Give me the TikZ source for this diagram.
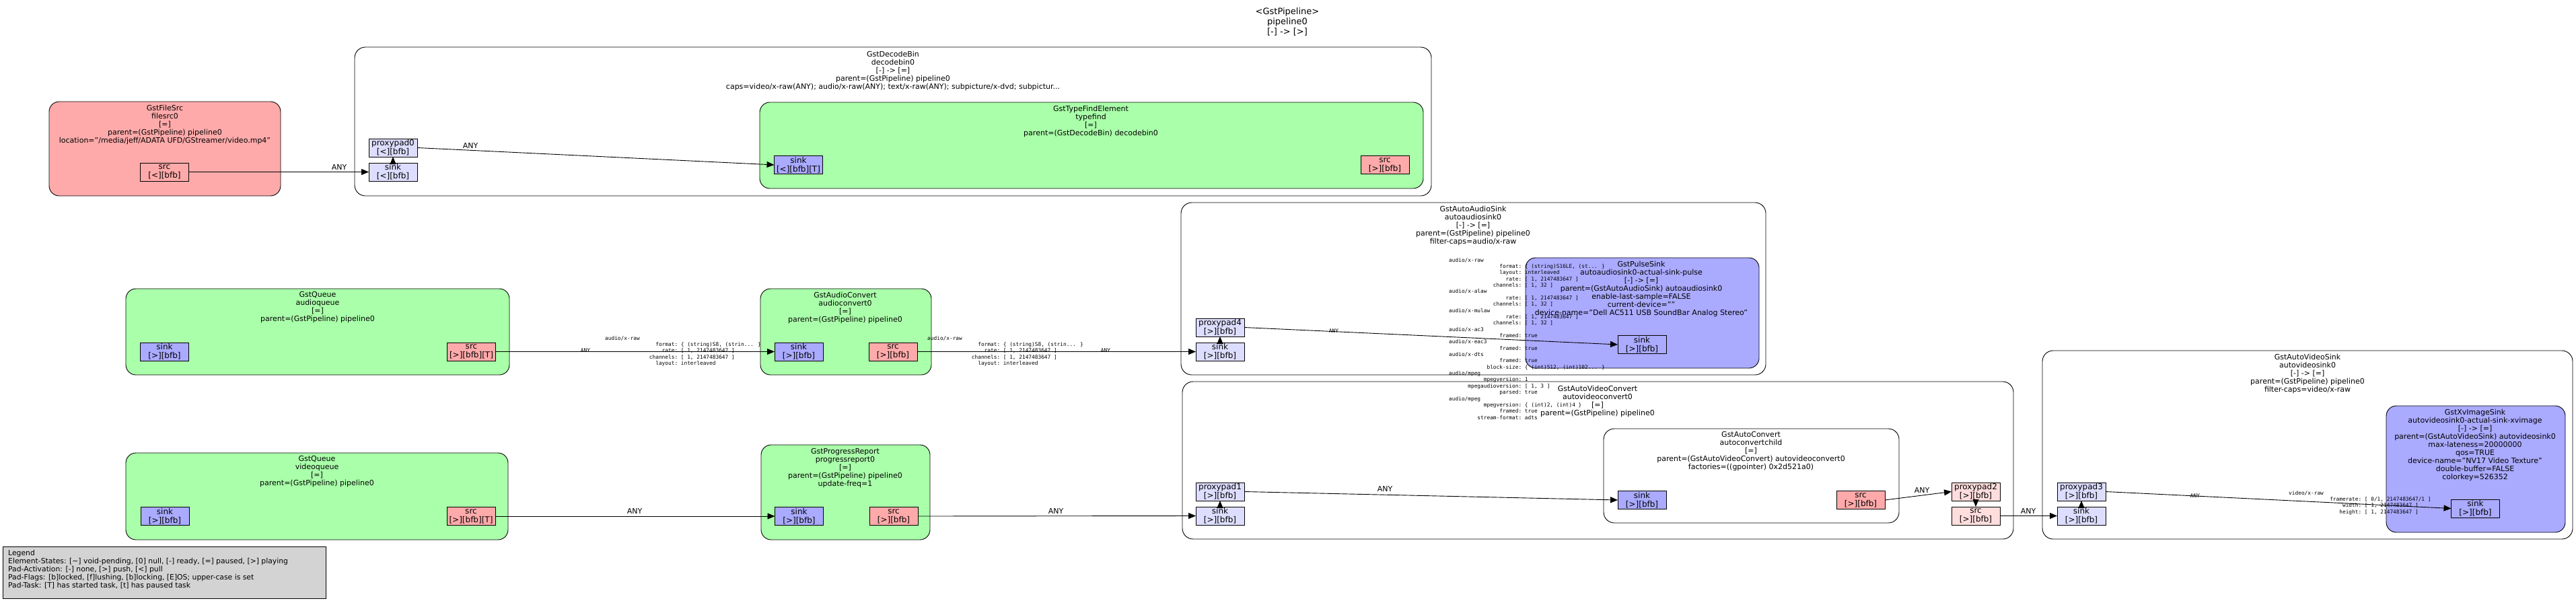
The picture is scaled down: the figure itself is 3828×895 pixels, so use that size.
\documentclass[tikz,border=0pt]{standalone}
\usepackage{fontspec}
\setmainfont{DejaVu Sans}
\newfontfamily\capsfont{DejaVu Sans Mono}
\usetikzlibrary{arrows.meta}

\definecolor{elemgreen}{HTML}{AAFFAA}
\definecolor{srcred}{HTML}{FFAAAA}
\definecolor{sinkblue}{HTML}{AAAAFF}
\definecolor{ghostsink}{HTML}{DDDDFF}
\definecolor{ghostsrc}{HTML}{FFDDDD}
\definecolor{legendgray}{HTML}{D3D3D3}

% caps columns: media type flush left, field names flush right to the colon
\newlength{\capsw}\setlength{\capsw}{108pt}
\newcommand{\ctype}[1]{\makebox[\capsw][l]{#1}}
\newcommand{\ckey}[2]{\makebox[\capsw][r]{#1}\ #2}

\tikzset{
	bin/.style={draw, line width=0.9pt, rounded corners=16pt, fill=white, inner sep=0pt, outer sep=0pt},
	elem/.style={draw, line width=0.9pt, rounded corners=15pt, inner sep=0pt, outer sep=0pt},
	pad/.style={draw, line width=0.8pt, minimum width=72pt, minimum height=27pt, inner sep=0pt, outer sep=0pt, align=center, font=\fontsize{12}{13}\selectfont},
	elemtext/.style={align=center, inner sep=0pt, font=\fontsize{11}{12}\selectfont},
	anylbl/.style={inner sep=0pt, font=\fontsize{11}{12}\selectfont},
	anysmall/.style={inner sep=0pt, font=\capsfont\fontsize{7.8}{9.36}\selectfont},
	capstext/.style={align=left, anchor=north west, inner sep=0pt, font=\capsfont\fontsize{7.8}{9.36}\selectfont},
	link/.style={-{Triangle[length=11pt,width=9pt]}, line width=0.9pt}
}

\begin{document}
\begin{tikzpicture}[x=1pt, y=-1pt]
	\useasboundingbox (0,0) rectangle (3828,895);

	\node [align=center, inner sep=0pt, font=\fontsize{13}{15}\selectfont] (pipelbl) at (1913,32) {<GstPipeline>\\pipeline0\\{[-] -> [>]}};

	% bins
	\node [bin, minimum width=1600pt, minimum height=221pt] (decodebin) at (1327,180.5) {};
	\node [bin, minimum width=869pt, minimum height=256pt] (autoaudiosink) at (2189.5,429) {};
	\node [bin, minimum width=1235pt, minimum height=234pt] (autovideoconvert) at (2374.5,684) {};
	\node [bin, minimum width=788pt, minimum height=280pt] (autovideosink) at (3429,661) {};
	\node [bin, minimum width=439pt, minimum height=140pt] (autoconvert) at (2602.5,707) {};

	\node [elemtext] (decodebin_lbl) at (1327,105) {GstDecodeBin\\decodebin0\\{[-] -> [=]}\\parent=(GstPipeline) pipeline0\\caps=video/x-raw(ANY); audio/x-raw(ANY); text/x-raw(ANY); subpicture/x-dvd; subpictur...};
	\node [elemtext] (autoaudiosink_lbl) at (2189,335) {GstAutoAudioSink\\autoaudiosink0\\{[-] -> [=]}\\parent=(GstPipeline) pipeline0\\filter-caps=audio/x-raw};
	\node [elemtext] (autovideoconvert_lbl) at (2374,596) {GstAutoVideoConvert\\autovideoconvert0\\{[=]}\\parent=(GstPipeline) pipeline0};
	\node [elemtext] (autovideosink_lbl) at (3429,555) {GstAutoVideoSink\\autovideosink0\\{[-] -> [=]}\\parent=(GstPipeline) pipeline0\\filter-caps=video/x-raw};
	\node [elemtext] (autoconvert_lbl) at (2602,671) {GstAutoConvert\\autoconvertchild\\{[=]}\\parent=(GstAutoVideoConvert) autovideoconvert0\\factories=((gpointer) 0x2d521a0)};

	% elements
	\node [elem, fill=srcred, minimum width=344pt, minimum height=140pt] (filesrc) at (245,221) {};
	\node [elem, fill=elemgreen, minimum width=986pt, minimum height=128pt] (typefind) at (1622,216) {};
	\node [elem, fill=elemgreen, minimum width=570pt, minimum height=128pt] (audioqueue) at (472,493) {};
	\node [elem, fill=elemgreen, minimum width=254pt, minimum height=128pt] (audioconvert) at (1257,493) {};
	\node [elem, fill=sinkblue, minimum width=347pt, minimum height=164pt] (pulsesink) at (2440.5,465) {};
	\node [elem, fill=elemgreen, minimum width=568pt, minimum height=129pt] (videoqueue) at (471,737.5) {};
	\node [elem, fill=elemgreen, minimum width=251pt, minimum height=141pt] (progressreport) at (1256.5,731.5) {};
	\node [elem, fill=sinkblue, minimum width=266pt, minimum height=188pt] (xvimagesink) at (3679,697) {};

	\node [elemtext] (filesrc_lbl) at (245,185) {GstFileSrc\\filesrc0\\{[=]}\\parent=(GstPipeline) pipeline0\\location="/media/jeff/ADATA UFD/GStreamer/video.mp4"};
	\node [elemtext] (typefind_lbl) at (1621,180) {GstTypeFindElement\\typefind\\{[=]}\\parent=(GstDecodeBin) decodebin0};
	\node [elemtext] (audioqueue_lbl) at (472,457) {GstQueue\\audioqueue\\{[=]}\\parent=(GstPipeline) pipeline0};
	\node [elemtext] (audioconvert_lbl) at (1256,457) {GstAudioConvert\\audioconvert0\\{[=]}\\parent=(GstPipeline) pipeline0};
	\node [elemtext] (pulsesink_lbl) at (2439,429) {GstPulseSink\\autoaudiosink0-actual-sink-pulse\\{[-] -> [=]}\\parent=(GstAutoAudioSink) autoaudiosink0\\enable-last-sample=FALSE\\current-device=""\\device-name="Dell AC511 USB SoundBar Analog Stereo"};
	\node [elemtext] (videoqueue_lbl) at (471,701) {GstQueue\\videoqueue\\{[=]}\\parent=(GstPipeline) pipeline0};
	\node [elemtext] (progressreport_lbl) at (1256,696) {GstProgressReport\\progressreport0\\{[=]}\\parent=(GstPipeline) pipeline0\\update-freq=1};
	\node [elemtext] (xvimagesink_lbl) at (3678,661) {GstXvImageSink\\autovideosink0-actual-sink-xvimage\\{[-] -> [=]}\\parent=(GstAutoVideoSink) autovideosink0\\max-lateness=20000000\\qos=TRUE\\device-name="NV17 Video Texture"\\double-buffer=FALSE\\colorkey=526352};

	% pads
	\node [pad, fill=srcred] (filesrc_src) at (244.5,255.5) {src\\{[<][bfb]}};
	\node [pad, fill=ghostsink] (dec_sink) at (584,255.5) {sink\\{[<][bfb]}};
	\node [pad, fill=ghostsink] (pp0) at (584,219.5) {proxypad0\\{[<][bfb]}};
	\node [pad, fill=sinkblue] (tf_sink) at (1186.5,245) {sink\\{[<][bfb][T]}};
	\node [pad, fill=srcred] (tf_src) at (2058,245) {src\\{[>][bfb]}};
	\node [pad, fill=sinkblue] (aq_sink) at (244.5,522.5) {sink\\{[>][bfb]}};
	\node [pad, fill=srcred] (aq_src) at (700.5,522.5) {src\\{[>][bfb][T]}};
	\node [pad, fill=sinkblue] (ac_sink) at (1187,522.5) {sink\\{[>][bfb]}};
	\node [pad, fill=srcred] (ac_src) at (1327,522.5) {src\\{[>][bfb]}};
	\node [pad, fill=ghostsink] (aas_sink) at (1813,522.5) {sink\\{[>][bfb]}};
	\node [pad, fill=ghostsink] (pp4) at (1813,486.5) {proxypad4\\{[>][bfb]}};
	\node [pad, fill=sinkblue] (pulse_sink) at (2440,512) {sink\\{[>][bfb]}};
	\node [pad, fill=sinkblue] (vq_sink) at (245,767) {sink\\{[>][bfb]}};
	\node [pad, fill=srcred] (vq_src) at (700,767) {src\\{[>][bfb][T]}};
	\node [pad, fill=sinkblue] (pr_sink) at (1187.5,767) {sink\\{[>][bfb]}};
	\node [pad, fill=srcred] (pr_src) at (1328,767) {src\\{[>][bfb]}};
	\node [pad, fill=ghostsink] (avc_sink) at (1813,766.5) {sink\\{[>][bfb]}};
	\node [pad, fill=ghostsink] (pp1) at (1813,730.5) {proxypad1\\{[>][bfb]}};
	\node [pad, fill=sinkblue] (acv_sink) at (2440,743) {sink\\{[>][bfb]}};
	\node [pad, fill=srcred] (acv_src) at (2765,743) {src\\{[>][bfb]}};
	\node [pad, fill=ghostsrc] (pp2) at (2936,730.5) {proxypad2\\{[>][bfb]}};
	\node [pad, fill=ghostsrc] (avc_src) at (2936,766.5) {src\\{[>][bfb]}};
	\node [pad, fill=ghostsink] (avs_sink) at (3093,766.5) {sink\\{[>][bfb]}};
	\node [pad, fill=ghostsink] (pp3) at (3093,730.5) {proxypad3\\{[>][bfb]}};
	\node [pad, fill=sinkblue] (xv_sink) at (3678.5,755.5) {sink\\{[>][bfb]}};

	% ghost pad to proxy pad
	\foreach \a/\b in {dec_sink/pp0, aas_sink/pp4, avc_sink/pp1, pp2/avc_src, avs_sink/pp3}
		\draw [link] (\a) -- (\b);

	% links
	\draw [link] (filesrc_src.east) -- (dec_sink.west);
	\draw [link] (pp0.east) -- (tf_sink.west);
	\draw [link] (aq_src.east) -- (ac_sink.west);
	\draw [link] (ac_src.east) -- (aas_sink.west);
	\draw [link] (pp4.east) -- (pulse_sink.west);
	\draw [link] (vq_src.east) -- (pr_sink.west);
	\draw [link] (pr_src.east) -- (avc_sink.west);
	\draw [link] (pp1.east) -- (acv_sink.west);
	\draw [link] (acv_src.east) -- (pp2.west);
	\draw [link] (avc_src.east) -- (avs_sink.west);
	\draw [link] (pp3.east) -- (xv_sink.west);

	\node [anylbl] (any1) at (504,248) {ANY};
	\node [anylbl] (any2) at (699,216) {ANY};
	\node [anylbl] (any3) at (943,759) {ANY};
	\node [anylbl] (any4) at (1569,759) {ANY};
	\node [anylbl] (any5) at (2058,726) {ANY};
	\node [anylbl] (any6) at (2856,728) {ANY};
	\node [anylbl] (any7) at (3014,759) {ANY};
	\node [anysmall] (any8) at (870,521) {ANY};
	\node [anysmall] (any9) at (1643,521) {ANY};
	\node [anysmall] (any10) at (1982,492) {ANY};
	\node [anysmall] (any11) at (3262,737) {ANY};

	% caps
	\node [capstext] (caps_aconv_sink) at (899,499) {\ctype{audio/x-raw}\\\ckey{format:}{\{ (string)S8, (strin... \}}\\\ckey{rate:}{[ 1, 2147483647 ]}\\\ckey{channels:}{[ 1, 2147483647 ]}\\\ckey{layout:}{interleaved}};
	\node [capstext] (caps_aconv_src) at (1378,499) {\ctype{audio/x-raw}\\\ckey{format:}{\{ (string)S8, (strin... \}}\\\ckey{rate:}{[ 1, 2147483647 ]}\\\ckey{channels:}{[ 1, 2147483647 ]}\\\ckey{layout:}{interleaved}};
	\node [capstext] (caps_pulse) at (2153,383) {\ctype{audio/x-raw}\\\ckey{format:}{\{ (string)S16LE, (st... \}}\\\ckey{layout:}{interleaved}\\\ckey{rate:}{[ 1, 2147483647 ]}\\\ckey{channels:}{[ 1, 32 ]}\\\ctype{audio/x-alaw}\\\ckey{rate:}{[ 1, 2147483647 ]}\\\ckey{channels:}{[ 1, 32 ]}\\\ctype{audio/x-mulaw}\\\ckey{rate:}{[ 1, 2147483647 ]}\\\ckey{channels:}{[ 1, 32 ]}\\\ctype{audio/x-ac3}\\\ckey{framed:}{true}\\\ctype{audio/x-eac3}\\\ckey{framed:}{true}\\\ctype{audio/x-dts}\\\ckey{framed:}{true}\\\ckey{block-size:}{\{ (int)512, (int)102... \}}\\\ctype{audio/mpeg}\\\ckey{mpegversion:}{1}\\\ckey{mpegaudioversion:}{[ 1, 3 ]}\\\ckey{parsed:}{true}\\\ctype{audio/mpeg}\\\ckey{mpegversion:}{\{ (int)2, (int)4 \}}\\\ckey{framed:}{true}\\\ckey{stream-format:}{adts}};
	\node [capstext] (caps_xv) at (3401,729) {\ctype{video/x-raw}\\\ckey{framerate:}{[ 0/1, 2147483647/1 ]}\\\ckey{width:}{[ 1, 2147483647 ]}\\\ckey{height:}{[ 1, 2147483647 ]}};

	% legend
	\node [draw, line width=0.9pt, fill=legendgray, minimum width=480pt, minimum height=77pt, inner sep=0pt] (legend) at (244,850.5) {};
	\node [align=left, anchor=west, inner sep=0pt, font=\fontsize{10.8}{12}\selectfont] (legend_lbl) at (12,847) {Legend\\Element-States: [\textasciitilde] void-pending, [0] null, [-] ready, [=] paused, [>] playing\\Pad-Activation: [-] none, [>] push, [<] pull\\Pad-Flags: [b]locked, [f]lushing, [b]locking, [E]OS; upper-case is set\\Pad-Task: [T] has started task, [t] has paused task};
\end{tikzpicture}
\end{document}
